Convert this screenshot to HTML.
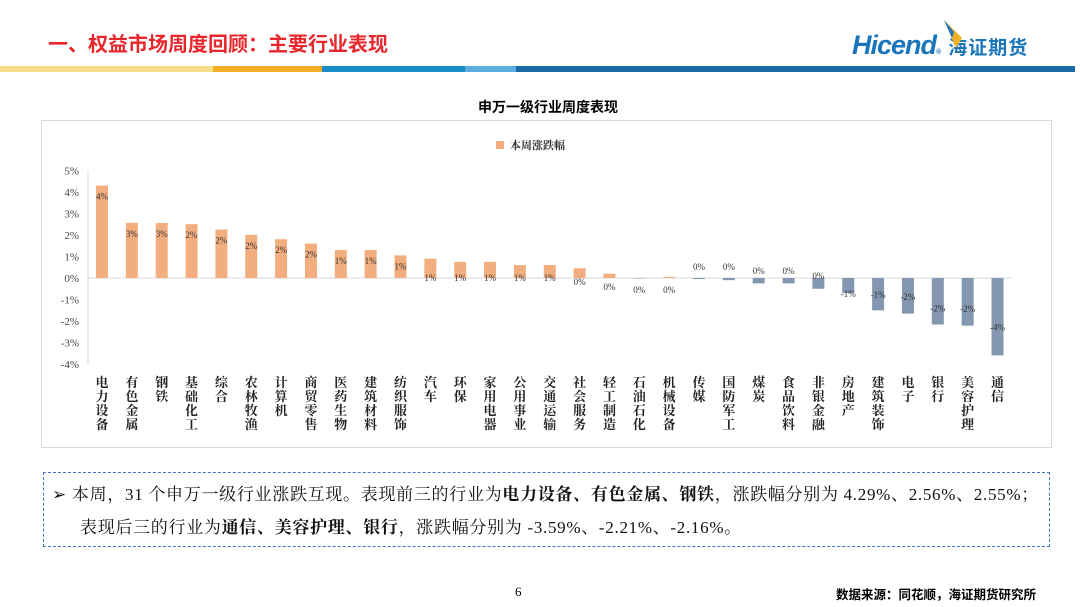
<!DOCTYPE html>
<html><head><meta charset="utf-8">
<style>
body{margin:0;width:1080px;height:607px;background:#fff;overflow:hidden;position:relative;font-family:"Liberation Serif","Noto Serif CJK SC",serif;}
.abs{position:absolute;}
</style></head><body>
<div class="abs" style="left:48px;top:28px;font-family:'Liberation Sans','Noto Sans CJK SC',sans-serif;font-size:20px;color:#E8272C;font-weight:bold;">一、权益市场周度回顾：主要行业表现</div>
<div class="abs" style="left:852px;top:30px;font-family:'Liberation Sans',sans-serif;font-style:italic;font-weight:bold;font-size:27px;color:#1A75BB;letter-spacing:-1px;">Hicend<span style="font-size:7px;">®</span><span style="font-family:'Noto Sans CJK SC',sans-serif;font-style:normal;font-size:19px;font-weight:bold;letter-spacing:1px;margin-left:8px;">海证期货</span></div>
<svg class="abs" style="left:940px;top:18px" width="30" height="36"><path d="M4 2 L22 20 L16 30 Z" fill="#F2B124"/><path d="M4 2 L14 14 L12 20 Z" fill="#1A75BB"/></svg>
<div class="abs" style="left:0;top:66px;width:1075px;height:6px;display:flex;">
<div style="width:213px;background:#F9DC8A"></div><div style="width:109px;background:#F2B124"></div><div style="width:143px;background:#1A8CC8"></div><div style="width:51px;background:#5DAEE0"></div><div style="flex:1;background:#1A6CA6"></div></div>
<div class="abs" style="left:0;width:1096px;top:97px;text-align:center;font-size:14px;font-weight:bold;font-family:'Liberation Sans','Noto Sans CJK SC',sans-serif;">申万一级行业周度表现</div>
<div class="abs" style="left:41px;top:120px;width:1009px;height:326px;border:1px solid #d9d9d9;"></div>
<svg id="chart" class="abs" style="left:0;top:0" width="1080" height="607"></svg>
<div class="abs" style="left:43px;top:472px;width:1005px;height:73px;border:1px dashed #4472C4;font-size:17px;letter-spacing:0.7px;line-height:33px;color:#111;font-family:'Liberation Serif','Noto Serif CJK SC',serif;white-space:nowrap;">
<div style="padding-left:8px;margin-top:5px;">➢ 本周，31 个申万一级行业涨跌互现。表现前三的行业为<b>电力设备、有色金属、钢铁</b>，涨跌幅分别为 4.29%、2.56%、2.55%；</div>
<div style="padding-left:36px;">表现后三的行业为<b>通信、美容护理、银行</b>，涨跌幅分别为 -3.59%、-2.21%、-2.16%。</div>
</div>
<div class="abs" style="left:515px;top:584px;font-size:13px;">6</div>
<div class="abs" style="left:836px;top:584px;font-size:12.5px;font-weight:bold;font-family:'Liberation Sans','Noto Sans CJK SC',sans-serif;">数据来源：同花顺，海证期货研究所</div>
<script>
const categories=["电力设备","有色金属","钢铁","基础化工","综合","农林牧渔","计算机","商贸零售","医药生物","建筑材料","纺织服饰","汽车","环保","家用电器","公用事业","交通运输","社会服务","轻工制造","石油石化","机械设备","传媒","国防军工","煤炭","食品饮料","非银金融","房地产","建筑装饰","电子","银行","美容护理","通信"];
const values=[4.29,2.56,2.55,2.5,2.25,2.0,1.8,1.6,1.3,1.3,1.05,0.9,0.75,0.75,0.6,0.6,0.45,0.2,-0.01,0.05,-0.05,-0.1,-0.25,-0.25,-0.5,-0.7,-1.5,-1.65,-2.16,-2.21,-3.59];
const valueLabels=["4%","3%","3%","2%","2%","2%","2%","2%","1%","1%","1%","1%","1%","1%","1%","1%","0%","0%","0%","0%","0%","0%","0%","0%","0%","-1%","-1%","-2%","-2%","-2%","-4%"];
const yTicks=[5,4,3,2,1,0,-1,-2,-3,-4];
const legendLabel="本周涨跌幅";
const NS="http://www.w3.org/2000/svg";
const svg=document.getElementById('chart');
const y0=278,unit=21.55,x0=88,step=29.85,firstX=102,bw=12;
const Y=v=>y0-v*unit, X=i=>firstX+i*step;
function mk(t,a){const e=document.createElementNS(NS,t);for(const k in a)e.setAttribute(k,a[k]);svg.appendChild(e);return e;}
let ax=mk('line',{x1:x0,y1:Y(5),x2:x0,y2:Y(-4),stroke:'#d9d9d9'});

let zx=mk('line',{x1:x0,y1:y0,x2:X(30)+15,y2:y0,stroke:'#d9d9d9'});

yTicks.forEach(v=>{const t=mk('text',{x:x0-9,y:Y(v)+4,'text-anchor':'end','font-size':11,fill:'#444'});t.textContent=v+'%';
});
values.forEach((v,i)=>{
 const c=v>=0?'#F2AE7E':'#8497B0';
 const r=mk('rect',{x:X(i)-bw/2,y:Math.min(Y(v),y0),width:bw,height:Math.max(Math.abs(Y(v)-y0),0.5),fill:c});
 
 let ly;
 if(v>=1){ly=Y(v)+14;}else if(v>=0.3){ly=y0+3;}else if(v>=0){ly=y0+13;}else if(v>-0.2){ly=y0-8;}else if(v>-1){ly=Y(v)+4;}else{ly=Y(v)*0.5+y0*0.5+ (v<-3?14:4)+ (v<-2&&v>-3?6:0);}
 if(i===16)ly=y0+7; if(i===17)ly=y0+12; if(i>=18&&i<=19)ly=y0+15;
 if(i===20||i===21)ly=y0-8; if(i===22||i===23)ly=y0-4; if(i===24)ly=y0+1;
 const t=mk('text',{x:X(i),y:ly,'text-anchor':'middle','font-size':9,fill:'#333'});t.textContent=valueLabels[i];
 
 [...categories[i]].forEach((ch,k)=>{const c2=mk('text',{x:X(i),y:387+k*14,'text-anchor':'middle','font-size':13,'font-weight':'bold',fill:'#222'});c2.textContent=ch;
 });
});
let lr=mk('rect',{x:496,y:141,width:8,height:8,fill:'#F2AE7E'});

let lt=mk('text',{x:510,y:149,'font-size':11,'font-weight':'bold',fill:'#333'});lt.textContent=legendLabel;

</script>
</body></html>
